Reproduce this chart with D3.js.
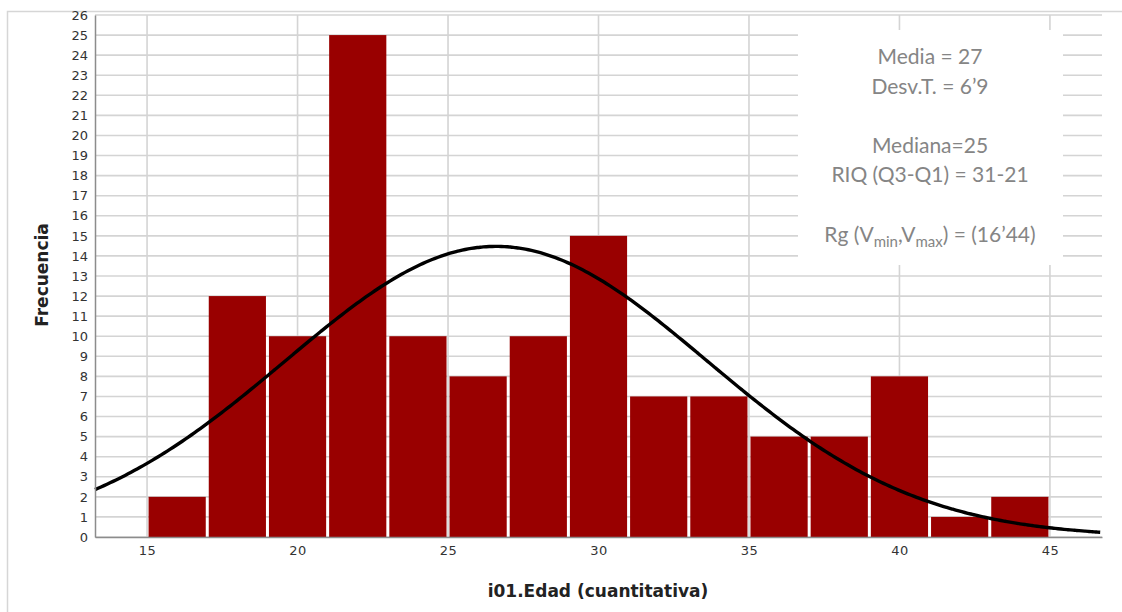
<!DOCTYPE html>
<html>
<head>
<meta charset="utf-8">
<script src="https://cdn.jsdelivr.net/npm/d3@7"></script>
<style>
    body { margin: 0; background: #fff; }
    svg { display: block; }
</style>
</head>
<body>
<div id="chart"></div>
<script>
// bins of two years, left edges
const binStarts = [15, 17, 19, 21, 23, 25, 27, 29, 31, 33, 35, 37, 39, 41, 43];
const binWidth = 2;
const frequencies = [2, 12, 10, 25, 10, 8, 10, 15, 7, 7, 5, 5, 8, 1, 2];
const xTicks = [15, 20, 25, 30, 35, 40, 45];
const yTicks = d3.range(0, 27);
// fitted normal curve parameters
const curveMean = 26.6;
const curveSd = 7.0;
const statLines = [
    {text: "Media = 27"},
    {text: "Desv.T. = 6\u20199"},
    null,
    {text: "Mediana=25"},
    {text: "RIQ (Q3-Q1) = 31-21"},
    null,
    {rg: true}
];

class Histogram {
    constructor(element, configs = {}) {
        let defaultConfig = {
            width: 1122,
            height: 612,
            plot: {left: 95, right: 1102, top: 15, bottom: 537}
        };
        this.config = Object.assign({}, defaultConfig, configs);
        this.svg = d3.select(element).append("svg")
            .attr("width", this.config.width)
            .attr("height", this.config.height);
        this.draw();
    }

    generateRange() {
        let p = this.config.plot;
        this.x = d3.scaleLinear().domain([13.27, 46.73]).range([p.left, p.right]);
        this.y = d3.scaleLinear().domain([0, 26]).range([p.bottom, p.top]);
    }

    drawFrame() {
        this.svg.append("path")
            .attr("d", "M7.5,612V11.5H1122")
            .attr("fill", "none")
            .attr("stroke", "#d6d6d6")
            .attr("stroke-width", 1.5);
    }

    drawGrid() {
        let p = this.config.plot;
        let grid = this.svg.append("g").attr("class", "grid");
        grid.selectAll(".h").data(yTicks).enter().append("line")
            .attr("x1", p.left).attr("x2", p.right)
            .attr("y1", d => this.y(d)).attr("y2", d => this.y(d))
            .attr("stroke", "#d4d4d4").attr("stroke-width", 1.6);
        grid.selectAll(".v").data(xTicks).enter().append("line")
            .attr("x1", d => this.x(d)).attr("x2", d => this.x(d))
            .attr("y1", p.top).attr("y2", p.bottom)
            .attr("stroke", "#d4d4d4").attr("stroke-width", 1.6);
    }

    drawBars() {
        let bins = binStarts.map((s, i) => ({x0: s, x1: s + binWidth, n: frequencies[i]}));
        this.svg.append("g").attr("class", "bars")
            .selectAll("rect").data(bins).enter().append("rect")
            .attr("x", d => this.x(d.x0) + 1.5)
            .attr("width", d => this.x(d.x1) - this.x(d.x0) - 3)
            .attr("y", d => this.y(d.n))
            .attr("height", d => this.y(0) - this.y(d.n))
            .attr("fill", "#990000");
    }

    drawCurve() {
        let total = d3.sum(frequencies);
        let dom = this.x.domain();
        let pts = d3.range(dom[0], dom[1] + 0.001, 0.1).map(v => {
            let z = (v - curveMean) / curveSd;
            return [v, total * binWidth * Math.exp(-z * z / 2) / (curveSd * Math.sqrt(2 * Math.PI))];
        });
        let line = d3.line().curve(d3.curveBasis)
            .x(d => this.x(d[0]))
            .y(d => this.y(d[1]));
        this.svg.append("path")
            .attr("d", line(pts))
            .attr("fill", "none")
            .attr("stroke", "#000")
            .attr("stroke-width", 3.4);
    }

    drawAxes() {
        let p = this.config.plot;
        let yAxis = this.svg.append("g")
            .attr("transform", "translate(" + p.left + ",0)")
            .call(d3.axisLeft(this.y).tickValues(yTicks).tickSize(0).tickPadding(7));
        let xAxis = this.svg.append("g")
            .attr("transform", "translate(0," + p.bottom + ")")
            .call(d3.axisBottom(this.x).tickValues(xTicks).tickSize(0).tickPadding(9));
        [xAxis, yAxis].forEach(a => {
            a.select(".domain").attr("stroke", "#8c8c8c").attr("stroke-width", 1.5);
            a.selectAll("text")
                .attr("fill", "#333")
                .style("font-family", "DejaVu Sans")
                .style("font-size", "13px");
        });
        xAxis.selectAll("text").style("letter-spacing", "0.5px");

        this.svg.append("text")
            .attr("x", 598).attr("y", 597)
            .attr("text-anchor", "middle")
            .style("font-family", "DejaVu Sans")
            .style("font-weight", "bold")
            .style("font-size", "17px")
            .attr("fill", "#222")
            .text("i01.Edad (cuantitativa)");

        this.svg.append("text")
            .attr("transform", "translate(48,275) rotate(-90)")
            .attr("text-anchor", "middle")
            .style("font-family", "DejaVu Sans")
            .style("font-weight", "bold")
            .style("font-size", "17px")
            .attr("fill", "#222")
            .text("Frecuencia");
    }

    drawStats() {
        let box = this.svg.append("g").attr("class", "stats");
        box.append("rect")
            .attr("x", 798).attr("y", 30)
            .attr("width", 265).attr("height", 235)
            .attr("fill", "#fff");
        let cx = 930;
        statLines.forEach((l, i) => {
            if (!l) return;
            let t = box.append("text")
                .attr("x", cx).attr("y", 64 + i * 29.6)
                .attr("text-anchor", "middle")
                .style("font-family", "Lato")
                .style("font-size", "21px")
                .attr("fill", "#858585");
            if (l.rg) {
                t.append("tspan").text("Rg (V");
                t.append("tspan").attr("dy", 5).style("font-size", "15px").text("min");
                t.append("tspan").attr("dy", -5).text(",V");
                t.append("tspan").attr("dy", 5).style("font-size", "15px").text("max");
                t.append("tspan").attr("dy", -5).text(") = (16\u201944)");
            } else {
                t.text(l.text);
            }
        });
    }

    draw() {
        this.generateRange();
        this.drawFrame();
        this.drawGrid();
        this.drawBars();
        this.drawCurve();
        this.drawStats();
        this.drawAxes();
    }
}

new Histogram("#chart");
</script>
</body>
</html>
